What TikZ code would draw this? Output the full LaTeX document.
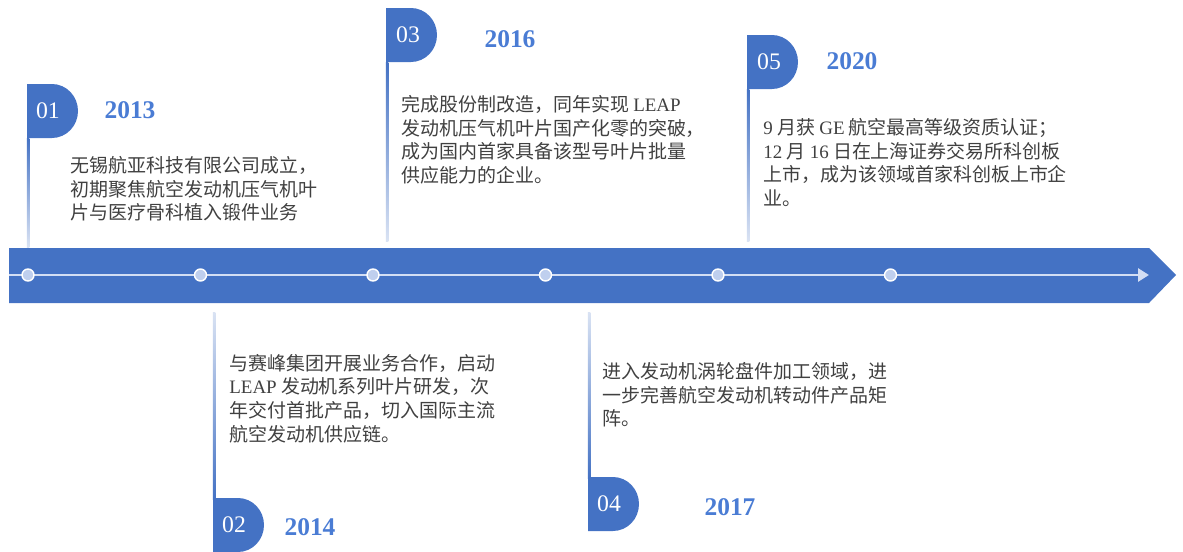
\documentclass[tikz,border=0pt]{standalone}
\usepackage{fontspec}
\setmainfont{Liberation Serif}
\newfontfamily\cjk{Noto Sans CJK SC}
\usetikzlibrary{arrows.meta}

\definecolor{barblue}{HTML}{4472C4}
\definecolor{yearblue}{HTML}{4A7CD4}
\definecolor{dotfill}{HTML}{BFCFEE}
\definecolor{linewhite}{HTML}{D3DEF4}
\definecolor{bodytext}{HTML}{404040}

\newcommand\lat[1]{{\rmfamily #1}}

\tikzset{
  flagnum/.style={text=white, inner sep=0pt, font=\fontsize{13.5}{13.5}\selectfont},
  yearlabel/.style={text=yearblue, inner sep=0pt, font=\fontsize{14.5}{14.5}\selectfont\bfseries},
  eventtext/.style={anchor=north west, align=left, inner sep=0pt, text=bodytext,
    font=\cjk\fontsize{10.8}{13.4}\selectfont},
  dotmark/.style={circle, fill=dotfill, draw=white, line width=0.8pt,
    minimum size=0.24cm, inner sep=0pt},
  stemdown/.style={top color=barblue, middle color=barblue, bottom color=barblue!20},
  stemup/.style={top color=barblue!20, middle color=barblue, bottom color=barblue}
}

\begin{document}
\begin{tikzpicture}[x=0.02cm, y=-0.02cm] % one unit = one pixel, y downwards

    \useasboundingbox (0,0) rectangle (1183,551);
    \clip (0,0) rectangle (1183,551);

    % Main arrow bar
    \fill[barblue] (9,248) -- (1149,248) -- (1176,275) -- (1149,303) -- (9,303) -- cycle;
    \coordinate (lstart) at (9,275);
    \coordinate (lend) at (1149,275);
    \draw[linewhite, line width=0.55mm, -{Triangle[length=2.2mm, width=2.6mm]}] (lstart) -- (lend);

    % Dots on the time line
    \node[dotmark] (d1) at (28,275) {};
    \node[dotmark] (d2) at (200.5,275) {};
    \node[dotmark] (d3) at (373,275) {};
    \node[dotmark] (d4) at (545.5,275) {};
    \node[dotmark] (d5) at (718,275) {};
    \node[dotmark] (d6) at (890.5,275) {};

    % Stems from the flags to the bar (fading towards the bar)
    \coordinate (s1) at (28,138);  \coordinate (e1) at (28,247);
    \coordinate (s3) at (387,62);  \coordinate (e3) at (387,241);
    \coordinate (s5) at (748,89);  \coordinate (e5) at (748,241);
    \coordinate (s2) at (214,312); \coordinate (e2) at (214,499);
    \coordinate (s4) at (589,312); \coordinate (e4) at (589,478);
    \shade[stemdown] ([xshift=-0.25mm]s1) rectangle ([xshift=0.25mm]e1);
    \shade[stemdown] ([xshift=-0.25mm]s3) rectangle ([xshift=0.25mm]e3);
    \shade[stemdown] ([xshift=-0.25mm]s5) rectangle ([xshift=0.25mm]e5);
    \shade[stemup] ([xshift=-0.25mm]s2) rectangle ([xshift=0.25mm]e2);
    \shade[stemup] ([xshift=-0.25mm]s4) rectangle ([xshift=0.25mm]e4);

    % Flags
    \fill[barblue] (27,84) -- (52,84) arc[start angle=-90, end angle=90, x radius=26, y radius=27] -- (27,138) -- cycle;
    \fill[barblue] (386,8) -- (411,8) arc[start angle=-90, end angle=90, x radius=26, y radius=27] -- (386,62) -- cycle;
    \fill[barblue] (747,35) -- (772,35) arc[start angle=-90, end angle=90, x radius=26, y radius=27] -- (747,89) -- cycle;
    \fill[barblue] (213,498) -- (238,498) arc[start angle=-90, end angle=90, x radius=26, y radius=27] -- (213,552) -- cycle;
    \fill[barblue] (588,477) -- (613,477) arc[start angle=-90, end angle=90, x radius=26, y radius=27] -- (588,531) -- cycle;

    % Flag numbers
    \node[flagnum] (f1) at (48,111) {01};
    \node[flagnum] (f3) at (408,35) {03};
    \node[flagnum] (f5) at (769,62) {05};
    \node[flagnum] (f2) at (234,525) {02};
    \node[flagnum] (f4) at (609,504) {04};

    % Years
    \node[yearlabel] (y1) at (130,110) {2013};
    \node[yearlabel] (y3) at (510,39) {2016};
    \node[yearlabel] (y5) at (852,61) {2020};
    \node[yearlabel] (y2) at (310,527) {2014};
    \node[yearlabel] (y4) at (730,507) {2017};

    % Event texts
    \node[eventtext] (t1) at (70,156) {无锡航亚科技有限公司成立，\\初期聚焦航空发动机压气机叶\\片与医疗骨科植入锻件业务};
    \node[eventtext] (t3) at (401,95) {完成股份制改造，同年实现 \lat{LEAP}\\发动机压气机叶片国产化零的突破，\\成为国内首家具备该型号叶片批量\\供应能力的企业。};
    \node[eventtext] (t5) at (763,118) {\lat{9} 月获 \lat{GE} 航空最高等级资质认证；\\\lat{12} 月 \lat{16} 日在上海证券交易所科创板\\上市，成为该领域首家科创板上市企\\业。};
    \node[eventtext] (t2) at (229,354) {与赛峰集团开展业务合作，启动\\\lat{LEAP} 发动机系列叶片研发，次\\年交付首批产品，切入国际主流\\航空发动机供应链。};
    \node[eventtext] (t4) at (602,362) {进入发动机涡轮盘件加工领域，进\\一步完善航空发动机转动件产品矩\\阵。};

\end{tikzpicture}
\end{document}
